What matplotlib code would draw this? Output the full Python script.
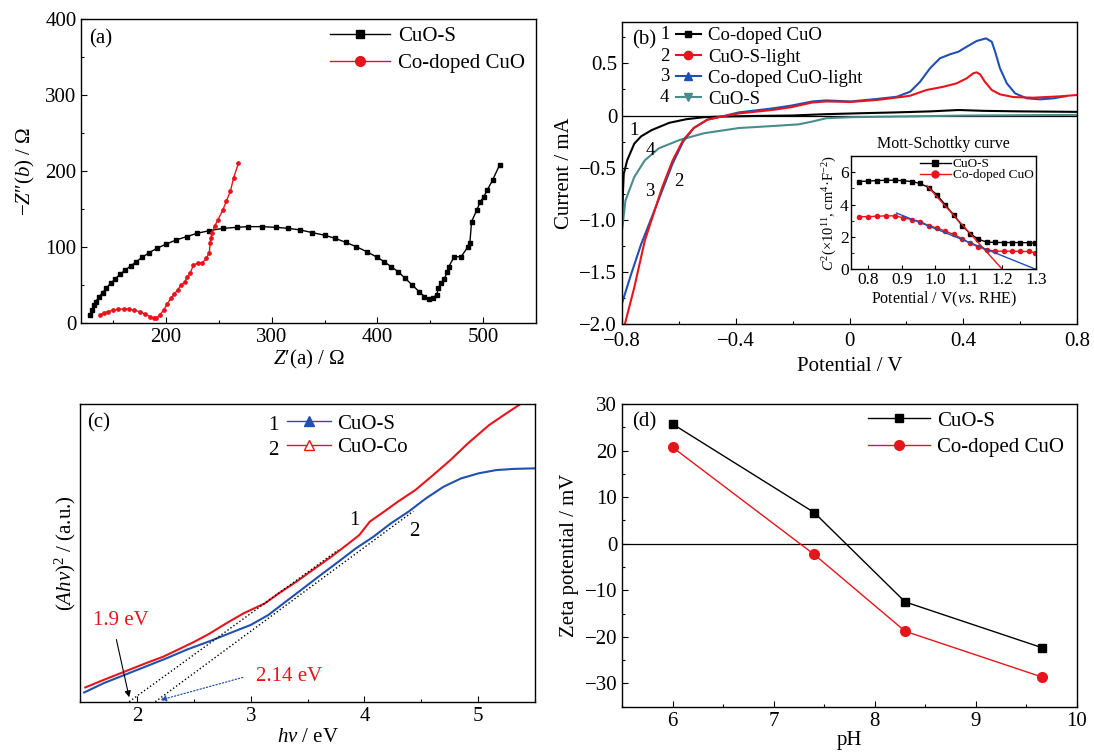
import numpy as np
import matplotlib.pyplot as plt
from matplotlib.lines import Line2D
from matplotlib.ticker import MultipleLocator, FuncFormatter

plt.rcParams['font.family'] = ['Liberation Serif', 'DejaVu Serif']
plt.rcParams['mathtext.fontset'] = 'custom'
plt.rcParams['mathtext.rm'] = 'Liberation Serif'
plt.rcParams['mathtext.it'] = 'Liberation Serif:italic'
plt.rcParams['font.size'] = 15
plt.rcParams['axes.linewidth'] = 1.0

RED = '#e8141c'
BLUE = '#2050b0'
TEAL = '#4a8c8c'

# ---- (a) Nyquist plot
eis_s_re = [128.5, 130.2, 131.9, 133.5, 136.8, 140.1, 143.4, 147.7, 151.7, 156.7, 161.6,
            166.6, 171.6, 177.5, 184.1, 191.4, 199.7, 209.6, 219.5, 229.4, 241.0, 254.3,
            267.5, 277.4, 290.6, 303.9, 315.4, 327.0, 338.6, 350.2, 360.1, 370.0, 380.0,
            389.9, 399.8, 406.4, 413.0, 419.6, 426.3, 432.9, 439.5, 444.5, 448.8, 452.7,
            456.0, 457.7, 460.0, 463.3, 466.0, 467.6, 472.6, 479.2, 485.8, 487.5, 489.1,
            494.1, 497.4, 500.7, 504.0, 509.0, 515.6]
eis_s_im = [10.5, 16.7, 23.3, 27.7, 34.3, 39.6, 45.3, 51.9, 57.1, 64.2, 69.5,
            74.7, 80.0, 86.2, 92.3, 98.0, 103.3, 109.0, 113.4, 117.8, 121.3, 124.4,
            125.7, 126.6, 126.6, 125.7, 124.4, 122.2, 118.7, 115.2, 111.2, 105.9, 100.2,
            93.6, 86.2, 80.4, 73.8, 67.3, 58.5, 49.7, 40.9, 34.3, 30.8, 33.0,
            36.5, 45.3, 51.9, 57.1, 67.3, 73.8, 87.0, 87.0, 100.2, 105.5, 133.2,
            148.6, 159.6, 166.2, 174.9, 188.1, 207.9]
eis_co_re = [137.4, 141, 145, 150, 155, 160, 165, 170, 175, 180, 185, 189, 191, 194, 198,
             201, 204.6, 208, 211, 214, 217.9, 220, 222.8, 226, 230, 234.4, 238, 241,
             241.7, 242.5, 243.4, 246, 249.3, 254, 257, 261, 264, 268.5]
eis_co_im = [10, 12.5, 14.5, 16.5, 17.6, 18, 17.8, 16.5, 14.5, 11.5, 8, 5.5, 6, 10, 16.8,
             24, 32, 38, 43, 49, 54, 60, 65, 76, 78.5, 78.6, 85, 92,
             105, 112, 118, 127, 136, 149, 160, 173.5, 191, 210]

# ---- (b) CV curves
cv1_v = [-0.8, -0.797, -0.794, -0.782, -0.757, -0.733, -0.696, -0.634, -0.573, -0.512,
         -0.45, -0.328, -0.205, -0.082, 0.04, 0.163, 0.286, 0.384, 0.47, 0.593, 0.8]
cv1_i = [-1.05, -0.75, -0.56, -0.43, -0.27, -0.2, -0.14, -0.07, -0.035, -0.016,
         -0.01, -0.004, 0.0, 0.013, 0.022, 0.03, 0.04, 0.053, 0.045, 0.04, 0.035]
cv2_v = [-0.79, -0.757, -0.72, -0.696, -0.659, -0.622, -0.585, -0.548, -0.5, -0.45, -0.389,
         -0.266, -0.205, -0.131, -0.082, 0.004, 0.1, 0.188, 0.213, 0.271, 0.33, 0.377,
         0.412, 0.435, 0.447, 0.459, 0.476, 0.5, 0.529, 0.576, 0.646, 0.74, 0.8]
cv2_i = [-2.0, -1.65, -1.2, -1.0, -0.69, -0.43, -0.235, -0.12, -0.04, -0.01, 0.02,
         0.055, 0.08, 0.125, 0.135, 0.13, 0.15, 0.18, 0.19, 0.245, 0.276, 0.309,
         0.357, 0.405, 0.414, 0.395, 0.324, 0.245, 0.203, 0.177, 0.171, 0.184, 0.197]
cv3_v = [-0.8, -0.769, -0.733, -0.696, -0.659, -0.622, -0.585, -0.548, -0.5, -0.45, -0.389,
         -0.266, -0.205, -0.131, -0.082, 0.004, 0.1, 0.166, 0.213, 0.248, 0.283, 0.318,
         0.353, 0.383, 0.412, 0.447, 0.48, 0.5, 0.512, 0.529, 0.553, 0.582, 0.623, 0.67,
         0.717, 0.764]
cv3_i = [-1.8, -1.53, -1.235, -0.98, -0.72, -0.46, -0.25, -0.12, -0.04, -0.01, 0.03,
         0.07, 0.095, 0.135, 0.145, 0.135, 0.16, 0.18, 0.228, 0.324, 0.453, 0.549,
         0.587, 0.612, 0.66, 0.715, 0.74, 0.708, 0.612, 0.453, 0.309, 0.213, 0.165, 0.155,
         0.165, 0.187]
cv4_v = [-0.8, -0.788, -0.757, -0.72, -0.671, -0.598, -0.512, -0.389, -0.266, -0.18,
         -0.131, -0.082, 0.004, 0.163, 0.409, 0.8]
cv4_i = [-1.1, -0.815, -0.59, -0.43, -0.315, -0.235, -0.17, -0.12, -0.1, -0.085,
         -0.058, -0.026, -0.016, -0.01, 0.0, 0.006]
cv_labels = ['Co-doped CuO', 'CuO-S-light', 'Co-doped CuO-light', 'CuO-S']

# ---- (b) inset: Mott-Schottky
ms_v = [0.773, 0.8, 0.827, 0.853, 0.88, 0.905, 0.93, 0.955, 0.98, 1.005, 1.03,
        1.055, 1.08, 1.104, 1.129, 1.154, 1.179, 1.204, 1.229, 1.254, 1.279, 1.299]
ms_s = [5.42, 5.45, 5.48, 5.5, 5.5, 5.47, 5.42, 5.3, 5.05, 4.6, 3.98,
        3.35, 2.7, 2.2, 1.85, 1.68, 1.66, 1.65, 1.65, 1.65, 1.64, 1.62]
ms_co = [3.25, 3.25, 3.28, 3.3, 3.3, 3.18, 3.07, 2.95, 2.7, 2.55, 2.35,
         2.15, 1.9, 1.6, 1.38, 1.2, 1.12, 1.12, 1.12, 1.1, 1.1, 1.02]
fit_s_x, fit_s_y = [0.975, 1.2], [5.17, 0.0]
fit_co_x, fit_co_y = [0.885, 1.3], [3.47, 0.0]

# ---- (c) Tauc plot (arbitrary units)
tauc_co_e = [1.544, 1.704, 1.889, 2.074, 2.228, 2.382, 2.506, 2.629, 2.783, 2.937, 3.122,
             3.246, 3.4, 3.554, 3.708, 3.862, 3.955, 4.047, 4.171, 4.294, 4.448, 4.603,
             4.757, 4.911, 5.096, 5.25, 5.373, 5.503]
tauc_co_a = [0.048, 0.073, 0.101, 0.129, 0.151, 0.179, 0.202, 0.227, 0.263, 0.297, 0.330,
             0.364, 0.403, 0.445, 0.487, 0.532, 0.560, 0.605, 0.638, 0.672, 0.711, 0.761,
             0.812, 0.868, 0.929, 0.969, 1.0, 1.03]
tauc_s_e = [1.534, 1.704, 1.889, 2.074, 2.259, 2.444, 2.629, 2.814, 3.0, 3.153, 3.307,
            3.462, 3.616, 3.77, 3.924, 4.078, 4.232, 4.386, 4.541, 4.695, 4.849, 5.003,
            5.158, 5.312, 5.503]
tauc_s_a = [0.031, 0.062, 0.090, 0.118, 0.146, 0.176, 0.202, 0.230, 0.258, 0.291, 0.336,
            0.381, 0.426, 0.470, 0.515, 0.554, 0.599, 0.638, 0.683, 0.722, 0.750, 0.767,
            0.778, 0.782, 0.784]
tan1_x, tan1_y = [1.93, 3.77], [0.0, 0.51]
tan2_x, tan2_y = [2.16, 4.43], [0.0, 0.64]

# ---- (d) zeta potential
ph = [6.0, 7.4, 8.3, 9.65]
zeta_s = [25.7, 6.7, -12.5, -22.3]
zeta_co = [20.7, -2.3, -18.8, -28.6]


def style(ax):
    ax.tick_params(which='both', direction='in', top=False, right=False, labelsize=15)
    ax.tick_params(which='major', length=4, width=0.8)
    ax.tick_params(which='minor', length=2.5, width=0.8)


def num_fmt(v, pos):
    if abs(v) < 1e-9:
        return '0'
    return f'{v:.1f}'.replace('-', '\u2212')


fig = plt.figure(figsize=(10.94, 7.56), dpi=100)

# (a)
ax = fig.add_axes([0.0744, 0.5732, 0.4155, 0.4013])
ax.plot(eis_s_re, eis_s_im, '-s', color='k', lw=1, ms=2.2)
ax.plot(eis_co_re, eis_co_im, '-o', color=RED, lw=1, ms=2.4)
ax.set_xlim(120, 550)
ax.set_ylim(0, 400)
ax.xaxis.set_major_locator(MultipleLocator(100))
ax.xaxis.set_minor_locator(MultipleLocator(50))
ax.yaxis.set_major_locator(MultipleLocator(100))
ax.yaxis.set_minor_locator(MultipleLocator(50))
style(ax)
ax.set_xlabel("$Z$\u2032(a) / Ω", labelpad=1)
ax.set_ylabel("\u2212$Z$\u2033($b$) / Ω", labelpad=6)
ax.text(0.017, 0.937, '(a)', transform=ax.transAxes, va='center')
ax.legend(handles=[Line2D([], [], color='k', marker='s', ms=6, lw=1),
                   Line2D([], [], color=RED, marker='o', ms=7, lw=1)],
          labels=['CuO-S', 'Co-doped CuO'], loc='upper left', bbox_to_anchor=(0.547, 0.975),
          frameon=False, borderpad=0, borderaxespad=0, handlelength=2.9,
          handletextpad=0.35, labelspacing=0.35, fontsize=15)

# (b)
ax = fig.add_axes([0.5686, 0.5714, 0.4159, 0.3999])
ax.axhline(0, color='k', lw=0.9)
ax.plot(cv1_v, cv1_i, color='k', lw=1.5)
ax.plot(cv4_v, cv4_i, color=TEAL, lw=1.5)
ax.plot(cv3_v, cv3_i, color=BLUE, lw=1.5)
ax.plot(cv2_v, cv2_i, color=RED, lw=1.5)
ax.set_xlim(-0.8, 0.8)
ax.set_ylim(-2.0, 0.9)
ax.xaxis.set_major_locator(MultipleLocator(0.4))
ax.xaxis.set_minor_locator(MultipleLocator(0.2))
ax.yaxis.set_major_locator(MultipleLocator(0.5))
ax.yaxis.set_minor_locator(MultipleLocator(0.25))
ax.xaxis.set_major_formatter(FuncFormatter(num_fmt))
ax.yaxis.set_major_formatter(FuncFormatter(num_fmt))
style(ax)
ax.tick_params(axis='x', which='major', pad=6)
ax.set_xlabel('Potential / V', labelpad=4)
ax.set_ylabel('Current / mA', labelpad=4)
ax.text(0.023, 0.939, '(b)', transform=ax.transAxes, va='center')
cv_handles = [Line2D([], [], color='k', marker='s', ms=5, lw=1.5),
              Line2D([], [], color=RED, marker='o', ms=6, lw=1.5),
              Line2D([], [], color=BLUE, marker='^', ms=6, lw=1.5),
              Line2D([], [], color=TEAL, marker='v', ms=6, lw=1.5)]
ax.legend(handles=cv_handles, labels=cv_labels, loc='upper left',
          bbox_to_anchor=(0.1176, 0.982), frameon=False, borderpad=0, borderaxespad=0,
          handlelength=1.35, handletextpad=0.4, labelspacing=0.22, fontsize=13.5)
for k, yy in enumerate([0.956, 0.8865, 0.818, 0.749]):
    ax.text(0.0938, yy, str(k + 1), transform=ax.transAxes, ha='center', va='center',
            fontsize=13.5)
for txt, xx, yy in [('1', -0.758, -0.146), ('4', -0.699, -0.331),
                    ('3', -0.702, -0.731), ('2', -0.602, -0.635)]:
    ax.text(xx, yy, txt, ha='center', va='center', fontsize=13.5)

# inset
axi = fig.add_axes([0.7783, 0.6438, 0.1685, 0.1499])
axi.plot(ms_v, ms_s, '-s', color='k', lw=1, ms=3)
axi.plot(ms_v, ms_co, '-o', color=RED, lw=1, ms=3)
axi.plot(fit_s_x, fit_s_y, color=RED, lw=1)
axi.plot(fit_co_x, fit_co_y, color=BLUE, lw=1)
axi.set_xlim(0.75, 1.3)
axi.set_ylim(0, 7)
axi.xaxis.set_major_locator(MultipleLocator(0.1))
axi.yaxis.set_major_locator(MultipleLocator(2))
axi.yaxis.set_minor_locator(MultipleLocator(1))
axi.xaxis.set_major_formatter(FuncFormatter(lambda v, p: f'{v:.1f}'))
axi.tick_params(which='both', direction='in', labelsize=12.5, pad=2)
axi.tick_params(which='major', length=3)
axi.tick_params(which='minor', length=1.8)
axi.set_title('Mott-Schottky curve', fontsize=11.5, pad=6)
axi.set_xlabel('Potential / V($vs$. RHE)', fontsize=11.5, labelpad=1)
axi.set_ylabel('$C^{2}$(×10$^{11}$, cm$^{4}$·F$^{-2}$)', fontsize=10.5, labelpad=1)
axi.legend(handles=[Line2D([], [], color='k', marker='s', ms=5, lw=1),
                    Line2D([], [], color=RED, marker='o', ms=5, lw=1)],
           labels=['CuO-S', 'Co-doped CuO'], loc='upper left', bbox_to_anchor=(0.37, 0.98),
           frameon=False, borderpad=0, borderaxespad=0, handlelength=2.4,
           handletextpad=0.1, labelspacing=-0.1, fontsize=9.5)

# (c)
ax = fig.add_axes([0.0734, 0.0718, 0.4156, 0.3938])
ax.plot(tauc_co_e, tauc_co_a, color=RED, lw=1.5)
ax.plot(tauc_s_e, tauc_s_a, color=BLUE, lw=1.5)
ax.plot(tan1_x, tan1_y, ':', color='k', lw=1)
ax.plot(tan2_x, tan2_y, ':', color='k', lw=1)
ax.annotate('', xy=(1.935, 0.006), xytext=(1.812, 0.218),
            arrowprops=dict(arrowstyle='-|>', color='k', lw=0.8, mutation_scale=9))
ax.annotate('', xy=(2.18, 0.003), xytext=(2.953, 0.084),
            arrowprops=dict(arrowstyle='-|>', color=BLUE, lw=0.9, ls=':', mutation_scale=9))
ax.text(1.61, 0.274, '1.9 eV', color=RED, va='center')
ax.text(3.045, 0.084, '2.14 eV', color=RED, va='center')
ax.text(3.909, 0.61, '1', ha='center', va='center')
ax.text(4.442, 0.571, '2', ha='center', va='center')
ax.set_xlim(1.5, 5.5)
ax.set_ylim(0, 1)
ax.set_yticks([])
ax.xaxis.set_major_locator(MultipleLocator(1))
ax.xaxis.set_minor_locator(MultipleLocator(0.5))
style(ax)
ax.set_xlabel(r'$h\nu$ / eV', labelpad=2)
ax.set_ylabel(r'$(Ah\nu)^2$ / (a.u.)', labelpad=2)
ax.text(0.0154, 0.935, '(c)', transform=ax.transAxes, va='center')
ax.legend(handles=[Line2D([], [], color=BLUE, marker='^', ms=7, lw=1),
                   Line2D([], [], color=RED, marker='^', mfc='white', ms=7, lw=1)],
          labels=['CuO-S', 'CuO-Co'], loc='upper left', bbox_to_anchor=(0.4546, 0.966),
          frameon=False, borderpad=0, borderaxespad=0, handlelength=2.1,
          handletextpad=0.3, labelspacing=0.2, fontsize=15)
ax.text(0.424, 0.929, '1', transform=ax.transAxes, ha='center', va='center')
ax.text(0.424, 0.845, '2', transform=ax.transAxes, ha='center', va='center')

# (d)
ax = fig.add_axes([0.5686, 0.0652, 0.4159, 0.4004])
ax.axhline(0, color='k', lw=0.9)
ax.plot(ph, zeta_s, '-s', color='k', lw=1, ms=6)
ax.plot(ph, zeta_co, '-o', color=RED, lw=1, ms=7)
ax.set_xlim(5.5, 10)
ax.set_ylim(-35, 30)
ax.xaxis.set_major_locator(MultipleLocator(1))
ax.xaxis.set_minor_locator(MultipleLocator(0.5))
ax.yaxis.set_major_locator(MultipleLocator(10))
ax.yaxis.set_minor_locator(MultipleLocator(5))
style(ax)
ax.set_xlabel('pH', labelpad=0)
ax.set_ylabel('Zeta potential / mV', labelpad=4)
ax.text(0.023, 0.942, '(d)', transform=ax.transAxes, va='center')
ax.legend(handles=[Line2D([], [], color='k', marker='s', ms=6, lw=1),
                   Line2D([], [], color=RED, marker='o', ms=7, lw=1)],
          labels=['CuO-S', 'Co-doped CuO'], loc='upper left', bbox_to_anchor=(0.54, 0.977),
          frameon=False, borderpad=0, borderaxespad=0, handlelength=2.97,
          handletextpad=0.35, labelspacing=0.35, fontsize=15)

fig.savefig('out.png', dpi=100)
